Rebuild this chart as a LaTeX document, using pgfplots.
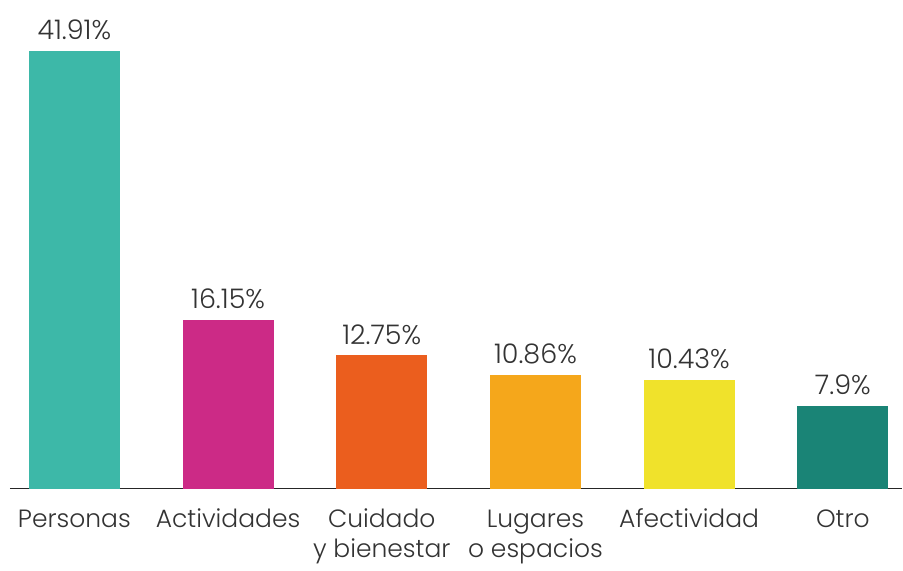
\documentclass[border=0pt]{standalone}
\usepackage{pgfplots}
\pgfplotsset{compat=1.18}
\usepackage{fontspec}
\setmainfont{Poppins}[UprightFont=* Light]
\definecolor{c1}{HTML}{3DB8A8}
\definecolor{c2}{HTML}{CC2A86}
\definecolor{c3}{HTML}{EB5E1E}
\definecolor{c4}{HTML}{F5A71B}
\definecolor{c5}{HTML}{F0E22B}
\definecolor{c6}{HTML}{1A8476}
\definecolor{txt}{HTML}{333333}
\begin{document}
\begin{tikzpicture}
\begin{axis}[
  at={(5pt,0pt)}, anchor=south west,
  scale only axis, width=446.5pt, height=244.5pt,
  xmin=-0.419, xmax=5.387, ymin=0, ymax=46.8,
  axis x line=bottom, axis y line=none,
  axis line style={-, line width=0.7pt, color=black!85},
  ybar, bar width=45.5pt, bar shift=0pt,
  xtick={0,1,2,3,4,5},
  xticklabels={{\strut Personas}, {\strut Actividades}, {\strut Cuidado\\y bienestar}, {\strut Lugares\\o espacios}, {\strut Afectividad}, {\strut Otro}},
  xtick style={draw=none},
  xticklabel style={align=center, font=\fontsize{12.5}{15}\selectfont, text=txt, anchor=north, yshift=-1pt},
  ytick=\empty,
  /pgf/number format/assume math mode=true,
  nodes near coords={\pgfmathprintnumber{\pgfplotspointmeta}\%},
  every node near coord/.append style={font=\fontsize{13.5}{15}\selectfont, text=txt, yshift=2pt},
  clip=false,
]
\addplot[fill=c1, draw=none] coordinates {(0,41.91)};
\addplot[fill=c2, draw=none] coordinates {(1,16.15)};
\addplot[fill=c3, draw=none] coordinates {(2,12.75)};
\addplot[fill=c4, draw=none] coordinates {(3,10.86)};
\addplot[fill=c5, draw=none] coordinates {(4,10.43)};
\addplot[fill=c6, draw=none] coordinates {(5,7.9)};
\end{axis}
\path[use as bounding box] (0,-36.5pt) rectangle (451.5pt,244.5pt);
\end{tikzpicture}
\end{document}
